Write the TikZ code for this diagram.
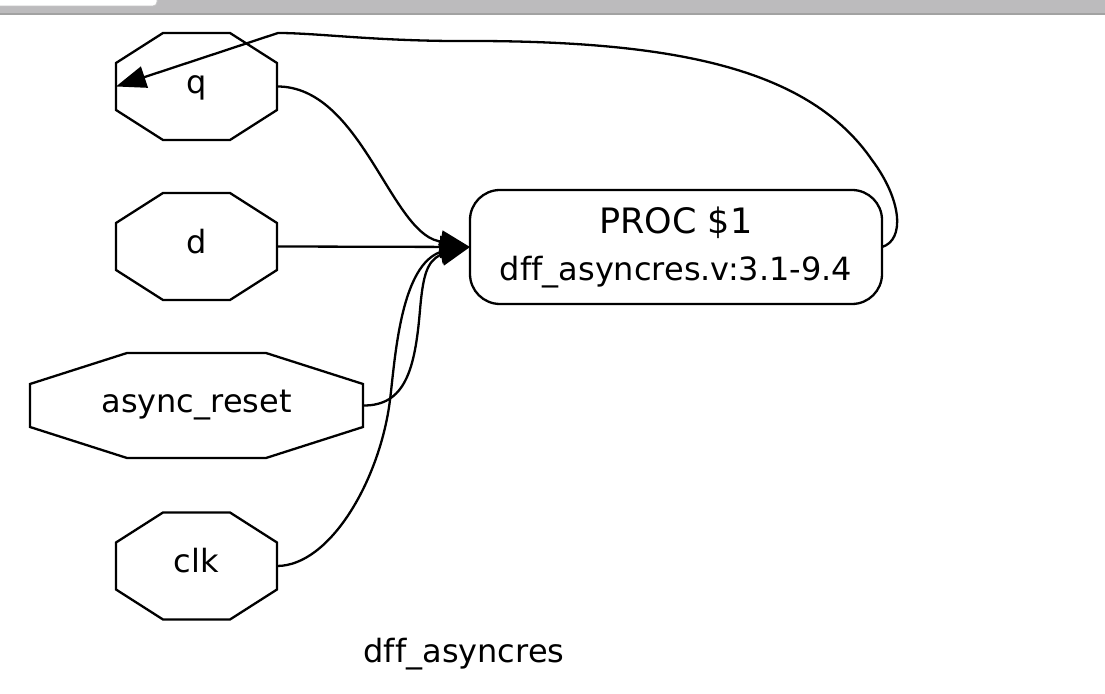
\documentclass[tikz,border=0pt]{standalone}
\usepackage{fontspec}
\setmainfont[Ligatures=NoCommon]{DejaVu Sans}
\usetikzlibrary{arrows.meta}

\definecolor{barcol}{HTML}{BCBBBD}
\definecolor{barline}{HTML}{A2A2A2}
\definecolor{tabedge}{HTML}{C6C6C6}

\tikzset{
  port/.style={rectangle,inner sep=0pt,outer sep=0pt,
    minimum width=80.5pt,minimum height=53.5pt,
    text height=12pt,text depth=5pt},
  wideport/.style={port,minimum width=166.5pt,minimum height=52.5pt},
  outline/.style={line width=1.15pt},
  procbox/.style={draw,rounded corners=15pt,line width=1.15pt,outer sep=0pt,
    minimum width=206pt,minimum height=57pt,align=center,
    font=\fontsize{16}{23.5}\selectfont},
  conn/.style={line width=1.15pt,-{Triangle[length=15pt,width=11pt]}}
}

% octagon round a port node: name, chamfer x, chamfer y
\newcommand\octagon[3]{%
  \draw[outline] ([xshift=#2]#1.north west) -- ([xshift=-#2]#1.north east)
    -- ([yshift=-#3]#1.north east) -- ([yshift=#3]#1.south east)
    -- ([xshift=-#2]#1.south east) -- ([xshift=#2]#1.south west)
    -- ([yshift=#3]#1.south west) -- ([yshift=-#3]#1.north west) -- cycle;}

\begin{document}
\begin{tikzpicture}[x=0.5pt,y=-0.5pt,font=\fontsize{16}{19}\selectfont]
\useasboundingbox (0,0) rectangle (1105,694);

% window bar
\fill[barcol] (0,0) rectangle (1105,13);
\fill[barline] (0,13) rectangle (1105,15);
\filldraw[fill=white,draw=tabedge,rounded corners=2pt] (-4,-4) rectangle (157,6);

% ports
\node[port] (q) at (196.5,86.5) {q};
\node[port] (d) at (196.5,246.5) {d};
\node[wideport] (reset) at (196.5,405.5) {async\_reset};
\node[port] (clk) at (196.5,566) {clk};
\foreach \n in {q,d,clk} {\octagon{\n}{23.5pt}{15pt}}
\octagon{reset}{48.5pt}{15.5pt}

% process
\node[procbox] (proc) at (676,247)
  {{\fontsize{17.5}{23.5}\selectfont PROC \$1}\\dff\_asyncres.v:3.1-9.4};

\node[text height=12pt,text depth=5pt] (title) at (464,655.7) {dff\_asyncres};

% connections
\coordinate (bend) at (278,33);
\draw[conn] (q.east) .. controls (360,86) and (390,230) .. (438,241) -- (proc.west);
\draw[conn] (d.east) -- (proc.west);
\draw[conn] (reset.east) .. controls (405,406) and (415,370) .. (420,310)
  .. controls (423,275) and (427,262) .. (440,255) -- (proc.west);
\draw[conn] (clk.east) .. controls (330,566) and (380,480) .. (390,400)
  .. controls (395,360) and (400,270) .. (438,253) -- (proc.west);
\draw[conn] (proc.east) .. controls (905,240) and (902,200) .. (872,160)
  .. controls (810,70) and (680,42) .. (480,41)
  .. controls (380,42) and (320,33) .. (bend) -- (q.west);
\end{tikzpicture}
\end{document}
